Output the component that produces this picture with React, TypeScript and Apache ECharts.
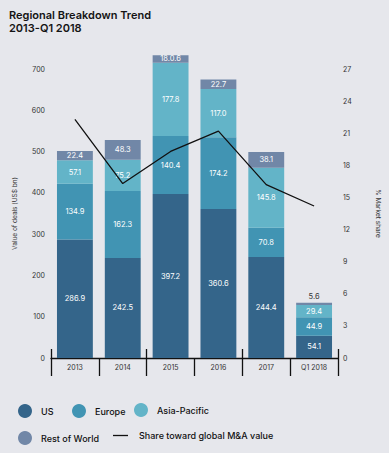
import React, { useEffect, useRef } from "react";
import * as echarts from "echarts";

const categories = ["2013", "2014", "2015", "2016", "2017", "Q1 2018"];
const usValues = [286.9, 242.5, 397.2, 360.6, 244.4, 54.1];
const europeValues = [134.9, 162.3, 140.4, 174.2, 70.8, 44.9];
const asiaPacificValues = [57.1, 75.2, 177.8, 117.0, 145.8, 29.4];
const restOfWorldValues = [22.4, 48.3, 18.06, 22.7, 38.1, 5.6];
const restOfWorldLabels = ["22.4", "48.3", "18.0.6", "22.7", "38.1", "5.6"];
const marketShare = [22.3, 16.3, 19.3, 21.2, 16.2, 14.2];

const COLORS = {
  us: "#34658a",
  europe: "#4194b3",
  ap: "#63b4c8",
  row: "#7187a7",
};
const FONT = "Inter, 'Noto Sans', sans-serif";

export default function App() {
  const ref = useRef<HTMLDivElement>(null);
  useEffect(() => {
    if (!ref.current) return;
    const chart = echarts.init(ref.current, null, { renderer: "svg" });
    const barLabel = {
      show: true,
      position: "inside",
      color: "#ffffff",
      fontSize: 7.5,
      fontFamily: FONT,
      formatter: (p: any) => Number(p.value).toFixed(1),
    };
    const lastIdx = categories.length - 1;
    const legendText = { fontSize: 9, fontWeight: 500, color: "#111", fontFamily: FONT, padding: [0, 0, 0, 4] };
    const mkLegend = (name: string, left: number, top: number, extra: any = {}) => ({
      data: [name],
      left,
      top,
      padding: 0,
      icon: "circle",
      itemWidth: 14,
      itemHeight: 14,
      textStyle: legendText,
      selectedMode: false,
      ...extra,
    });
    chart.setOption({
      animation: false,
      backgroundColor: "#e6e7ec",
      textStyle: { fontFamily: FONT },
      title: {
        text: "Regional Breakdown Trend\n2013-Q1 2018",
        left: 9,
        top: 8,
        padding: 0,
        textStyle: { fontSize: 11, fontWeight: 600, color: "#141414", lineHeight: 13, fontFamily: FONT },
      },
      legend: [
        mkLegend("US", 18, 404),
        mkLegend("Europe", 72, 404),
        mkLegend("Asia-Pacific", 134, 403),
        mkLegend("Rest of World", 18, 431),
        mkLegend("Share toward global M&A value", 113, 431, {
          icon: "rect",
          itemWidth: 15,
          itemHeight: 1.3,
          textStyle: { ...legendText, padding: [0, 0, 0, 6] },
        }),
      ],
      grid: { left: 51, right: 51, top: 69, bottom: 95 },
      xAxis: [
        {
          type: "category",
          data: categories,
          axisLine: { show: true, lineStyle: { color: "#111", width: 1.3 } },
          axisTick: { show: true, length: 18, lineStyle: { color: "#111", width: 1.3 } },
          axisLabel: { color: "#333", fontSize: 7, margin: 6, fontFamily: FONT },
        },
        {
          type: "category",
          data: categories,
          position: "bottom",
          axisLine: { show: false },
          axisTick: { show: true, inside: true, length: 9, lineStyle: { color: "#111", width: 1.3 } },
          axisLabel: { show: false },
        },
      ],
      yAxis: [
        {
          type: "value",
          min: 0,
          max: 700,
          interval: 100,
          splitLine: { show: false },
          axisLine: { show: false },
          axisTick: { show: false },
          axisLabel: { color: "#333", fontSize: 7, margin: 6, fontFamily: FONT },
          name: "Value of deals (US$ bn)",
          nameLocation: "middle",
          nameGap: 33,
          nameTextStyle: { fontSize: 6.5, color: "#333", fontFamily: FONT },
        },
        {
          type: "value",
          min: 0,
          max: 27,
          interval: 3,
          position: "right",
          splitLine: { show: false },
          axisLine: { show: false },
          axisTick: { show: false },
          axisLabel: { color: "#333", fontSize: 7, margin: 5, fontFamily: FONT },
          name: "% Market share",
          nameLocation: "middle",
          nameRotate: -90,
          nameGap: 36,
          nameTextStyle: { fontSize: 6.5, color: "#333", fontFamily: FONT },
        },
      ],
      series: [
        {
          name: "US",
          type: "bar",
          stack: "deals",
          barWidth: "75%",
          clip: false,
          itemStyle: { color: COLORS.us },
          label: barLabel,
          data: usValues,
        },
        {
          name: "Europe",
          type: "bar",
          stack: "deals",
          clip: false,
          itemStyle: { color: COLORS.europe },
          label: barLabel,
          data: europeValues,
        },
        {
          name: "Asia-Pacific",
          type: "bar",
          stack: "deals",
          clip: false,
          itemStyle: { color: COLORS.ap },
          label: barLabel,
          data: asiaPacificValues,
        },
        {
          name: "Rest of World",
          type: "bar",
          stack: "deals",
          clip: false,
          itemStyle: { color: COLORS.row },
          label: { ...barLabel, formatter: (p: any) => restOfWorldLabels[p.dataIndex] },
          data: restOfWorldValues.map((v, i) =>
            i === lastIdx ? { value: v, label: { position: "top", color: "#333", distance: 2 } } : v
          ),
        },
        {
          name: "Share toward global M&A value",
          type: "line",
          yAxisIndex: 1,
          symbol: "none",
          z: 5,
          itemStyle: { color: "#111" },
          lineStyle: { color: "#111", width: 1.3 },
          data: marketShare,
        },
      ],
    });
    return () => chart.dispose();
  }, []);
  return (
    <div
      ref={ref}
      style={{ position: "fixed", left: 0, top: 0, width: 389, height: 453 }}
    />
  );
}
